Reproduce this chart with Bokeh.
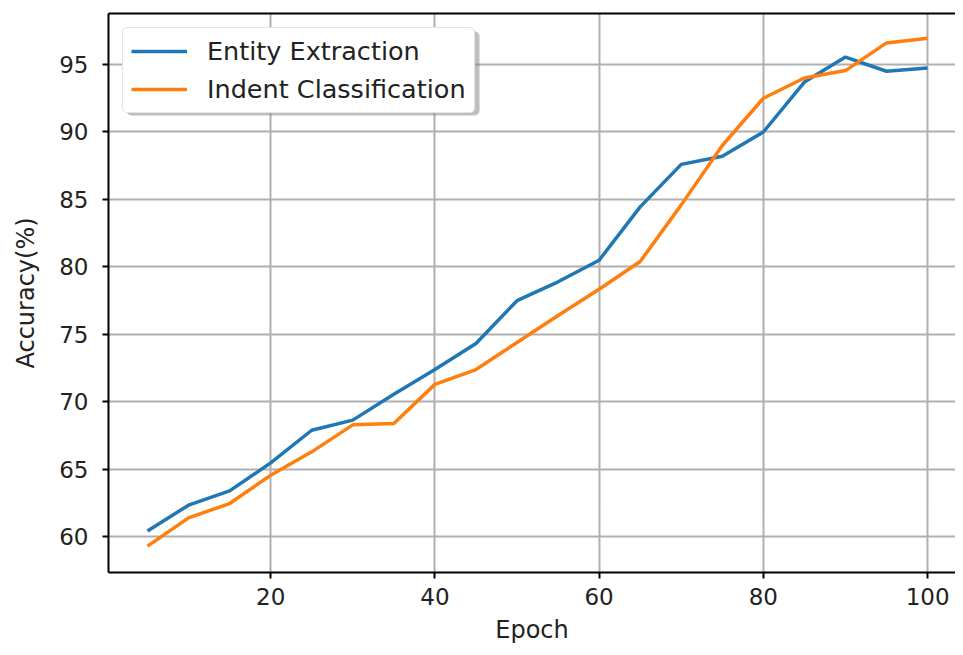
from bokeh.plotting import figure
from bokeh.models import Range1d, LinearAxis, FixedTicker, Legend, LegendItem, BoxAnnotation
from bokeh.embed import file_html
from bokeh.resources import INLINE

epochs = [5, 10, 15, 20, 25, 30, 35, 40, 45, 50, 55, 60, 65, 70, 75, 80, 85, 90, 95, 100]
entity_extraction = [60.44, 62.35, 63.41, 65.48, 67.9, 68.65, 70.57, 72.4, 74.33, 77.5,
                     78.9, 80.5, 84.45, 87.6, 88.2, 90.0, 93.7, 95.55, 94.5, 94.75]
indent_classification = [59.31, 61.41, 62.47, 64.57, 66.3, 68.3, 68.4, 71.3, 72.4, 74.4,
                         76.4, 78.35, 80.4, 84.6, 89.0, 92.5, 94.0, 94.55, 96.6, 96.95]
x_ticks = [20, 40, 60, 80, 100]
y_ticks = [60, 65, 70, 75, 80, 85, 90, 95]

FONT = "DejaVu Sans"

p = figure(width=955, height=647, output_backend="svg", toolbar_location=None,
           x_range=Range1d(0.25, 103.4), y_range=Range1d(57.36, 98.78),
           min_border_left=108, min_border_right=0, min_border_top=13, min_border_bottom=75)
p.background_fill_color = "white"
p.border_fill_color = "white"
p.outline_line_color = None

for ax in (p.xaxis[0], p.yaxis[0]):
    ax.axis_line_color = "black"
    ax.axis_line_width = 2
    ax.major_tick_line_color = "black"
    ax.major_tick_line_width = 2
    ax.major_tick_out = 6
    ax.major_tick_in = 0
    ax.minor_tick_line_color = None
    ax.major_label_text_font = FONT
    ax.major_label_text_font_size = "23px"
    ax.major_label_text_color = "#222222"
    ax.axis_label_text_font = FONT
    ax.axis_label_text_font_size = "24px"
    ax.axis_label_text_font_style = "normal"
    ax.axis_label_text_color = "#222222"

p.xaxis[0].ticker = FixedTicker(ticks=x_ticks)
p.yaxis[0].ticker = FixedTicker(ticks=y_ticks)
p.xaxis[0].axis_label = "Epoch"
p.yaxis[0].axis_label = "Accuracy(%)"
p.xaxis[0].major_label_standoff = 9
p.yaxis[0].major_label_standoff = 14
p.xaxis[0].axis_label_standoff = 8
p.yaxis[0].axis_label_standoff = 16

top = LinearAxis(ticker=FixedTicker(ticks=[]), axis_line_color="black", axis_line_width=2,
                 major_tick_line_color=None, minor_tick_line_color=None)
p.add_layout(top, "above")

p.xgrid.ticker = FixedTicker(ticks=x_ticks)
p.ygrid.ticker = FixedTicker(ticks=y_ticks)
for g in (p.xgrid[0], p.ygrid[0]):
    g.grid_line_color = "#b0b0b0"
    g.grid_line_width = 2

r1 = p.line(epochs, entity_extraction, line_color="#1f77b4", line_width=3.5)
r2 = p.line(epochs, indent_classification, line_color="#ff7f0e", line_width=3.5)

# legend drop shadow (screen units: x from frame left, y from frame bottom)
shadow = BoxAnnotation(left=18, right=371, top=541, bottom=457,
                       left_units="screen", right_units="screen",
                       top_units="screen", bottom_units="screen",
                       fill_color="#808080", fill_alpha=0.5, line_color=None)
if "border_radius" in BoxAnnotation.properties():
    shadow.border_radius = 5
p.add_layout(shadow)

legend = Legend(items=[LegendItem(label="Entity Extraction", renderers=[r1]),
                       LegendItem(label="Indent Classification", renderers=[r2])],
                location="top_left", margin=14, padding=8, spacing=8,
                glyph_width=56, glyph_height=30, label_height=30, label_standoff=20,
                label_text_font=FONT, label_text_font_size="25.5px", label_text_color="#222222",
                border_line_color="#cccccc", border_line_width=1.5,
                background_fill_color="white", background_fill_alpha=1.0)
if "border_radius" in Legend.properties():
    legend.border_radius = 5
p.add_layout(legend)

open("out.html", "w").write(file_html(p, INLINE))
